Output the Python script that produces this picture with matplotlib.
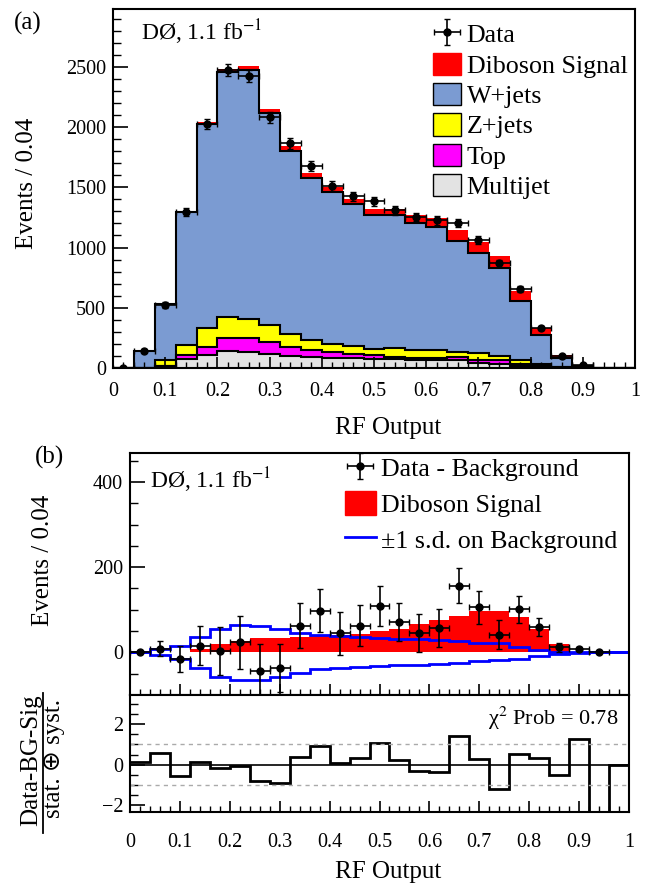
import numpy as np
import matplotlib
matplotlib.use('Agg')
import matplotlib.pyplot as plt
from matplotlib.patches import Patch
from matplotlib.lines import Line2D
from matplotlib.ticker import MultipleLocator, FuncFormatter

plt.rcParams['font.family'] = ['Liberation Serif', 'DejaVu Sans']
plt.rcParams['mathtext.fontset'] = 'stix'

# binning of the RF output (25 bins of 0.04)
edges = np.linspace(0, 1, 26)
centers = 0.5 * (edges[:-1] + edges[1:])

# (a) stacked backgrounds, signal and data
multijet = [0, 1, 15, 72, 105, 142, 133, 119, 100, 94, 86, 81, 75, 72, 64, 67, 64, 39, 31, 17, 5, 2, 0, 0, 0]
top = [0, 0, 5, 33, 73, 105, 120, 100, 72, 53, 47, 38, 33, 20, 22, 19, 28, 25, 33, 19, 12, 3, 0, 0, 0]
zjets = [0, 2, 44, 84, 150, 178, 153, 139, 109, 84, 70, 64, 53, 72, 61, 61, 44, 58, 36, 28, 14, 3, 2, 0, 0]
wjets = [3, 139, 471, 1106, 1697, 2030, 2064, 1756, 1522, 1347, 1258, 1175, 1106, 1103, 1056, 1022, 922, 832, 731, 489, 244, 78, 16, 3, 0]
signal = [0, 1, 2, 9, 20, 27, 33, 33, 36, 38, 41, 43, 51, 56, 67, 77, 86, 96, 97, 84, 55, 19, 1, 0, 0]
data = [2, 145, 525, 1295, 2025, 2470, 2425, 2080, 1864, 1678, 1511, 1425, 1383, 1308, 1253, 1225, 1203, 1064, 869, 653, 331, 97, 22, np.nan, np.nan]
data_err = [2, 12, 23, 36, 45, 50, 49, 46, 43, 41, 39, 38, 37, 36, 35, 35, 35, 33, 29, 26, 18, 10, 5, 0, 0]

# (b) data minus background
sub = [0, 9, -16, 16, 4, 24, -44, -36, 63, 98, 45, 63, 109, 71, 46, 57, 156, 106, 42, 101, 59, 12, 9, 0, np.nan]
sub_err = [1, 17, 31, 46, 56, 62, 63, 56, 53, 50, 50, 48, 46, 45, 45, 45, 41, 39, 35, 31, 21, 11, 4, 1, 0]
bg_up = [0, 9, 15, 35, 55, 64, 63, 54, 46, 41, 38, 35, 33, 31, 31, 29, 27, 23, 21, 12, 5, 2, 0, 0, 0]
bg_down = [0, -6, -16, -36, -57, -65, -65, -57, -48, -40, -36, -34, -31, -30, -30, -28, -24, -21, -19, -15, -8, -3, -1, 0, 0]

# pull panel
pull = [0.15, 0.56, -0.54, 0.15, -0.18, -0.05, -0.80, -0.88, 0.40, 0.94, 0.10, 0.35, 1.05, 0.23, -0.31, -0.34, 1.41, 0.26, -1.21, 0.51, 0.31, -0.51, 1.25, -3.0, 0.0]

col_w = '#7b9bd2'
col_z = '#ffff00'
col_t = '#ff00ff'
col_m = '#e3e3e3'

fig = plt.figure(figsize=(6.57, 8.86), dpi=100)
ax1 = fig.add_axes([113/657, 1-368/886, 522/657, 359/886])
ax2 = fig.add_axes([130/657, 1-695/886, 499/657, 242/886])
ax3 = fig.add_axes([130/657, 1-812/886, 499/657, 117/886])

fmt = FuncFormatter(lambda v, p: f'{v:g}')

# ---- panel (a)
base = np.zeros(25)
cums = []
for vals, col in [(multijet, col_m), (top, col_t), (zjets, col_z), (wjets, col_w)]:
    cum = base + np.array(vals)
    ax1.stairs(cum, edges, baseline=base, fill=True, color=col, lw=0)
    cums.append(cum)
    base = cum
ax1.stairs(base + np.array(signal), edges, baseline=base, fill=True, color='red', lw=0)
for cum in cums:
    ax1.stairs(cum, edges, baseline=None, color='k', lw=1.5)
eb1 = ax1.errorbar(centers, data, yerr=data_err, xerr=0.02, fmt='o', color='k',
                   ms=5, lw=1.2, capsize=2, zorder=5)

handles = [eb1, Patch(facecolor='red', edgecolor='red'),
           Patch(facecolor=col_w, edgecolor='k'), Patch(facecolor=col_z, edgecolor='k'),
           Patch(facecolor=col_t, edgecolor='k'), Patch(facecolor=col_m, edgecolor='k')]
labels = ['Data', 'Diboson Signal', 'W+jets', 'Z+jets', 'Top', 'Multijet']
ax1.legend(handles, labels, loc='upper left', bbox_to_anchor=(0.613, 0.963), frameon=False,
           fontsize=18.7, handlelength=1.08, handleheight=0.95, labelspacing=0.2,
           handletextpad=0.22, borderpad=0, borderaxespad=0)
ax1.text(0.054, 0.936, 'DØ, 1.1 fb$^{-1}$', transform=ax1.transAxes, fontsize=17, va='center')

ax1.set_xlim(0, 1)
ax1.set_ylim(0, 2980)
ax1.xaxis.set_major_locator(MultipleLocator(0.1))
ax1.xaxis.set_minor_locator(MultipleLocator(0.02))
ax1.yaxis.set_major_locator(MultipleLocator(500))
ax1.yaxis.set_minor_locator(MultipleLocator(100))
ax1.xaxis.set_major_formatter(fmt)

# ---- panel (b)
ax2.stairs(signal, edges, baseline=0, fill=True, color='red', lw=0)
ax2.stairs(bg_up, edges, baseline=None, color='blue', lw=2)
ax2.stairs(bg_down, edges, baseline=None, color='blue', lw=2)
eb2 = ax2.errorbar(centers, sub, yerr=sub_err, xerr=0.02, fmt='o', color='k',
                   ms=5, lw=1.2, capsize=2, zorder=5)
h2 = [eb2, Patch(facecolor='red', edgecolor='red'), Line2D([], [], color='blue', lw=2)]
l2 = ['Data - Background', 'Diboson Signal', '±1 s.d. on Background']
ax2.legend(h2, l2, loc='upper left', bbox_to_anchor=(0.43, 0.99), frameon=False,
           fontsize=18.7, handlelength=1.2, handleheight=1.0, labelspacing=0.4,
           handletextpad=0.2, borderpad=0, borderaxespad=0)
ax2.text(0.04, 0.888, 'DØ, 1.1 fb$^{-1}$', transform=ax2.transAxes, fontsize=17, va='center')
ax2.set_xlim(0, 1)
ax2.set_ylim(-100, 468)
ax2.xaxis.set_major_locator(MultipleLocator(0.1))
ax2.xaxis.set_minor_locator(MultipleLocator(0.02))
ax2.yaxis.set_major_locator(MultipleLocator(200))
ax2.yaxis.set_minor_locator(MultipleLocator(50))
ax2.tick_params(labelbottom=False)

# ---- pull panel
ax3.axhline(1, color='#aaaaaa', ls=(0, (3, 3)), lw=1)
ax3.axhline(-1, color='#aaaaaa', ls=(0, (3, 3)), lw=1)
ax3.axhline(0, color='k', lw=1.2)
ax3.stairs(pull, edges, baseline=None, color='k', lw=2)
ax3.text(0.978, 0.80, 'χ$^{2}$ Prob = 0.78', transform=ax3.transAxes, fontsize=16,
         ha='right', va='center')
ax3.set_xlim(0, 1)
ax3.set_ylim(-2.33, 3.43)
ax3.xaxis.set_major_locator(MultipleLocator(0.1))
ax3.xaxis.set_minor_locator(MultipleLocator(0.02))
ax3.yaxis.set_major_locator(MultipleLocator(2))
ax3.yaxis.set_minor_locator(MultipleLocator(0.5))
ax3.xaxis.set_major_formatter(fmt)

for ax in (ax1, ax2, ax3):
    for s in ax.spines.values():
        s.set_linewidth(1.5)
    ax.tick_params(which='both', direction='in', top=False, right=False, labelsize=14.5)
    ax.tick_params(axis='y', which='major', length=11, width=1.2, pad=5)
    ax.tick_params(axis='y', which='minor', length=6, width=1)
    ax.tick_params(axis='x', which='major', length=8, width=1.2, pad=10)
    ax.tick_params(axis='x', which='minor', length=4, width=1)
ax3.tick_params(axis='x', which='major', pad=15)

# labels
fig.text(27/657, 1-183/886, 'Events / 0.04', rotation=90, ha='center', va='center', fontsize=18)
fig.text(43/657, 1-560/886, 'Events / 0.04', rotation=90, ha='center', va='center', fontsize=18)
fig.text(388/657, 1-428/886, 'RF Output', ha='center', va='center', fontsize=18)
fig.text(388/657, 1-872/886, 'RF Output', ha='center', va='center', fontsize=18)
fig.text(28/657, 1-23/886, '(a)', ha='center', va='center', fontsize=18)
fig.text(50/657, 1-457/886, '(b)', ha='center', va='center', fontsize=18)

# fraction label of the pull panel
fig.text(31/657, 1-760/886, 'Data-BG-Sig', rotation=90, ha='center', va='center', fontsize=18)
fig.text(54/657, 1-758/886, 'stat. ⊕ syst.', rotation=90, ha='center', va='center', fontsize=18)
fig.add_artist(Line2D([43/657, 43/657], [1-693/886, 1-833/886], color='k', lw=1.3,
                      transform=fig.transFigure))

fig.savefig('out.png', dpi=100)
